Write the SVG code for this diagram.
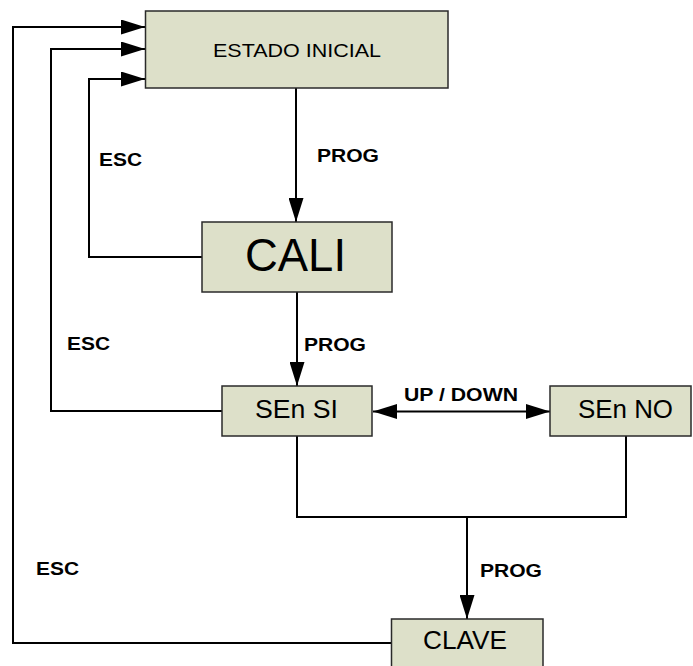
<svg xmlns="http://www.w3.org/2000/svg" width="693" height="666" viewBox="0 0 693 666">
<style>
.box{fill:#dde0c9;stroke:#2a2a2a;stroke-width:1.5}
.lbl{font-family:"Liberation Sans",Arial,sans-serif;fill:#000}
.b{font-weight:bold;font-size:18px}
.w{fill:none;stroke:#000;stroke-width:2}
</style>
<defs>
<marker id="ah" markerUnits="userSpaceOnUse" markerWidth="24" markerHeight="15" refX="24" refY="7.5" orient="auto-start-reverse" viewBox="0 0 24 15">
<path d="M0,0 L24,7.5 L0,15 z" fill="#000"/>
</marker>
</defs>
<rect width="693" height="666" fill="#fff"/>
<g id="connectors">
<polyline class="w" points="391.5,643 13,643 13,27 145,27" marker-end="url(#ah)"/>
<polyline class="w" points="222,411 51,411 51,49 145,49" marker-end="url(#ah)"/>
<polyline class="w" points="202,257 89,257 89,79 145,79" marker-end="url(#ah)"/>
<line class="w" x1="296" y1="88" x2="296" y2="222" marker-end="url(#ah)"/>
<line class="w" x1="297" y1="292" x2="297" y2="386" marker-end="url(#ah)"/>
<line class="w" x1="373" y1="411.5" x2="550" y2="411.5" marker-start="url(#ah)" marker-end="url(#ah)"/>
<polyline class="w" points="297,436 297,517 626,517 626,436"/>
<line class="w" x1="467" y1="517" x2="467" y2="619" marker-end="url(#ah)"/>
<text class="lbl b" x="99" y="166" textLength="43" lengthAdjust="spacingAndGlyphs">ESC</text>
<text class="lbl b" x="317" y="162" textLength="62" lengthAdjust="spacingAndGlyphs">PROG</text>
<text class="lbl b" x="67" y="350" textLength="43" lengthAdjust="spacingAndGlyphs">ESC</text>
<text class="lbl b" x="304" y="351" textLength="62" lengthAdjust="spacingAndGlyphs">PROG</text>
<text class="lbl b" x="404" y="401" textLength="114" lengthAdjust="spacingAndGlyphs">UP / DOWN</text>
<text class="lbl b" x="480" y="577" textLength="62" lengthAdjust="spacingAndGlyphs">PROG</text>
<text class="lbl b" x="36" y="575" textLength="43" lengthAdjust="spacingAndGlyphs">ESC</text>
</g>
<g id="estado-inicial">
<rect class="box" x="145.5" y="11" width="302.5" height="77"/>
<text class="lbl" x="213" y="57" font-size="19" textLength="168" lengthAdjust="spacingAndGlyphs">ESTADO INICIAL</text>
</g>
<g id="cali">
<rect class="box" x="202" y="222" width="190" height="70"/>
<text class="lbl" x="245" y="271" font-size="46" textLength="101" lengthAdjust="spacingAndGlyphs">CALI</text>
</g>
<g id="sen-si">
<rect class="box" x="222" y="386" width="150" height="50"/>
<text class="lbl" x="255" y="418" font-size="25" textLength="83" lengthAdjust="spacingAndGlyphs">SEn SI</text>
</g>
<g id="sen-no">
<rect class="box" x="550" y="386" width="141" height="50"/>
<text class="lbl" x="578" y="418" font-size="25" textLength="95" lengthAdjust="spacingAndGlyphs">SEn NO</text>
</g>
<g id="clave">
<rect class="box" x="391.5" y="619" width="151.5" height="60"/>
<text class="lbl" x="423" y="649" font-size="25" textLength="84" lengthAdjust="spacingAndGlyphs">CLAVE</text>
</g>
</svg>
